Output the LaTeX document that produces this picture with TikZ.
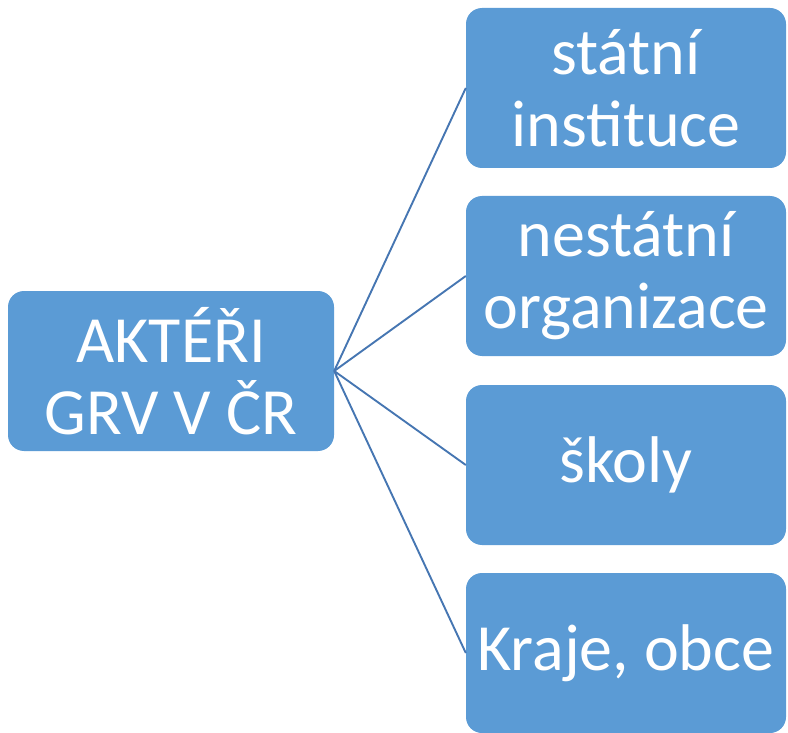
\documentclass[tikz,border=0pt]{standalone}
\usepackage{fontspec}
\setmainfont{Carlito}
\definecolor{boxblue}{RGB}{91,155,213}
\definecolor{lineblue}{RGB}{70,118,178}
\begin{document}
\begin{tikzpicture}[x=1pt,y=-1pt,
  box/.style={fill=boxblue,draw=none,rounded corners=16pt,text=white,align=center,
    font=\fontsize{66}{72}\selectfont,inner sep=0pt},
  link/.style={draw=lineblue,line width=1.9pt}]
\useasboundingbox (0,0) rectangle (788,733);
\node[box,minimum width=326pt,minimum height=160pt] (a) at (171,371) {AKTÉŘI\\GRV V ČR};
\node[box,minimum width=320pt,minimum height=160pt] (b1) at (626,88) {státní\\instituce};
\node[box,minimum width=320pt,minimum height=160pt] (b2) at (626,276) {nestátní\\organizace};
\node[box,minimum width=320pt,minimum height=160pt] (b3) at (626,465) {školy};
\node[box,minimum width=320pt,minimum height=160pt] (b4) at (626,653) {Kraje, obce};
\draw[link] (a.east) -- (b1.west);
\draw[link] (a.east) -- (b2.west);
\draw[link] (a.east) -- (b3.west);
\draw[link] (a.east) -- (b4.west);
\end{tikzpicture}
\end{document}
